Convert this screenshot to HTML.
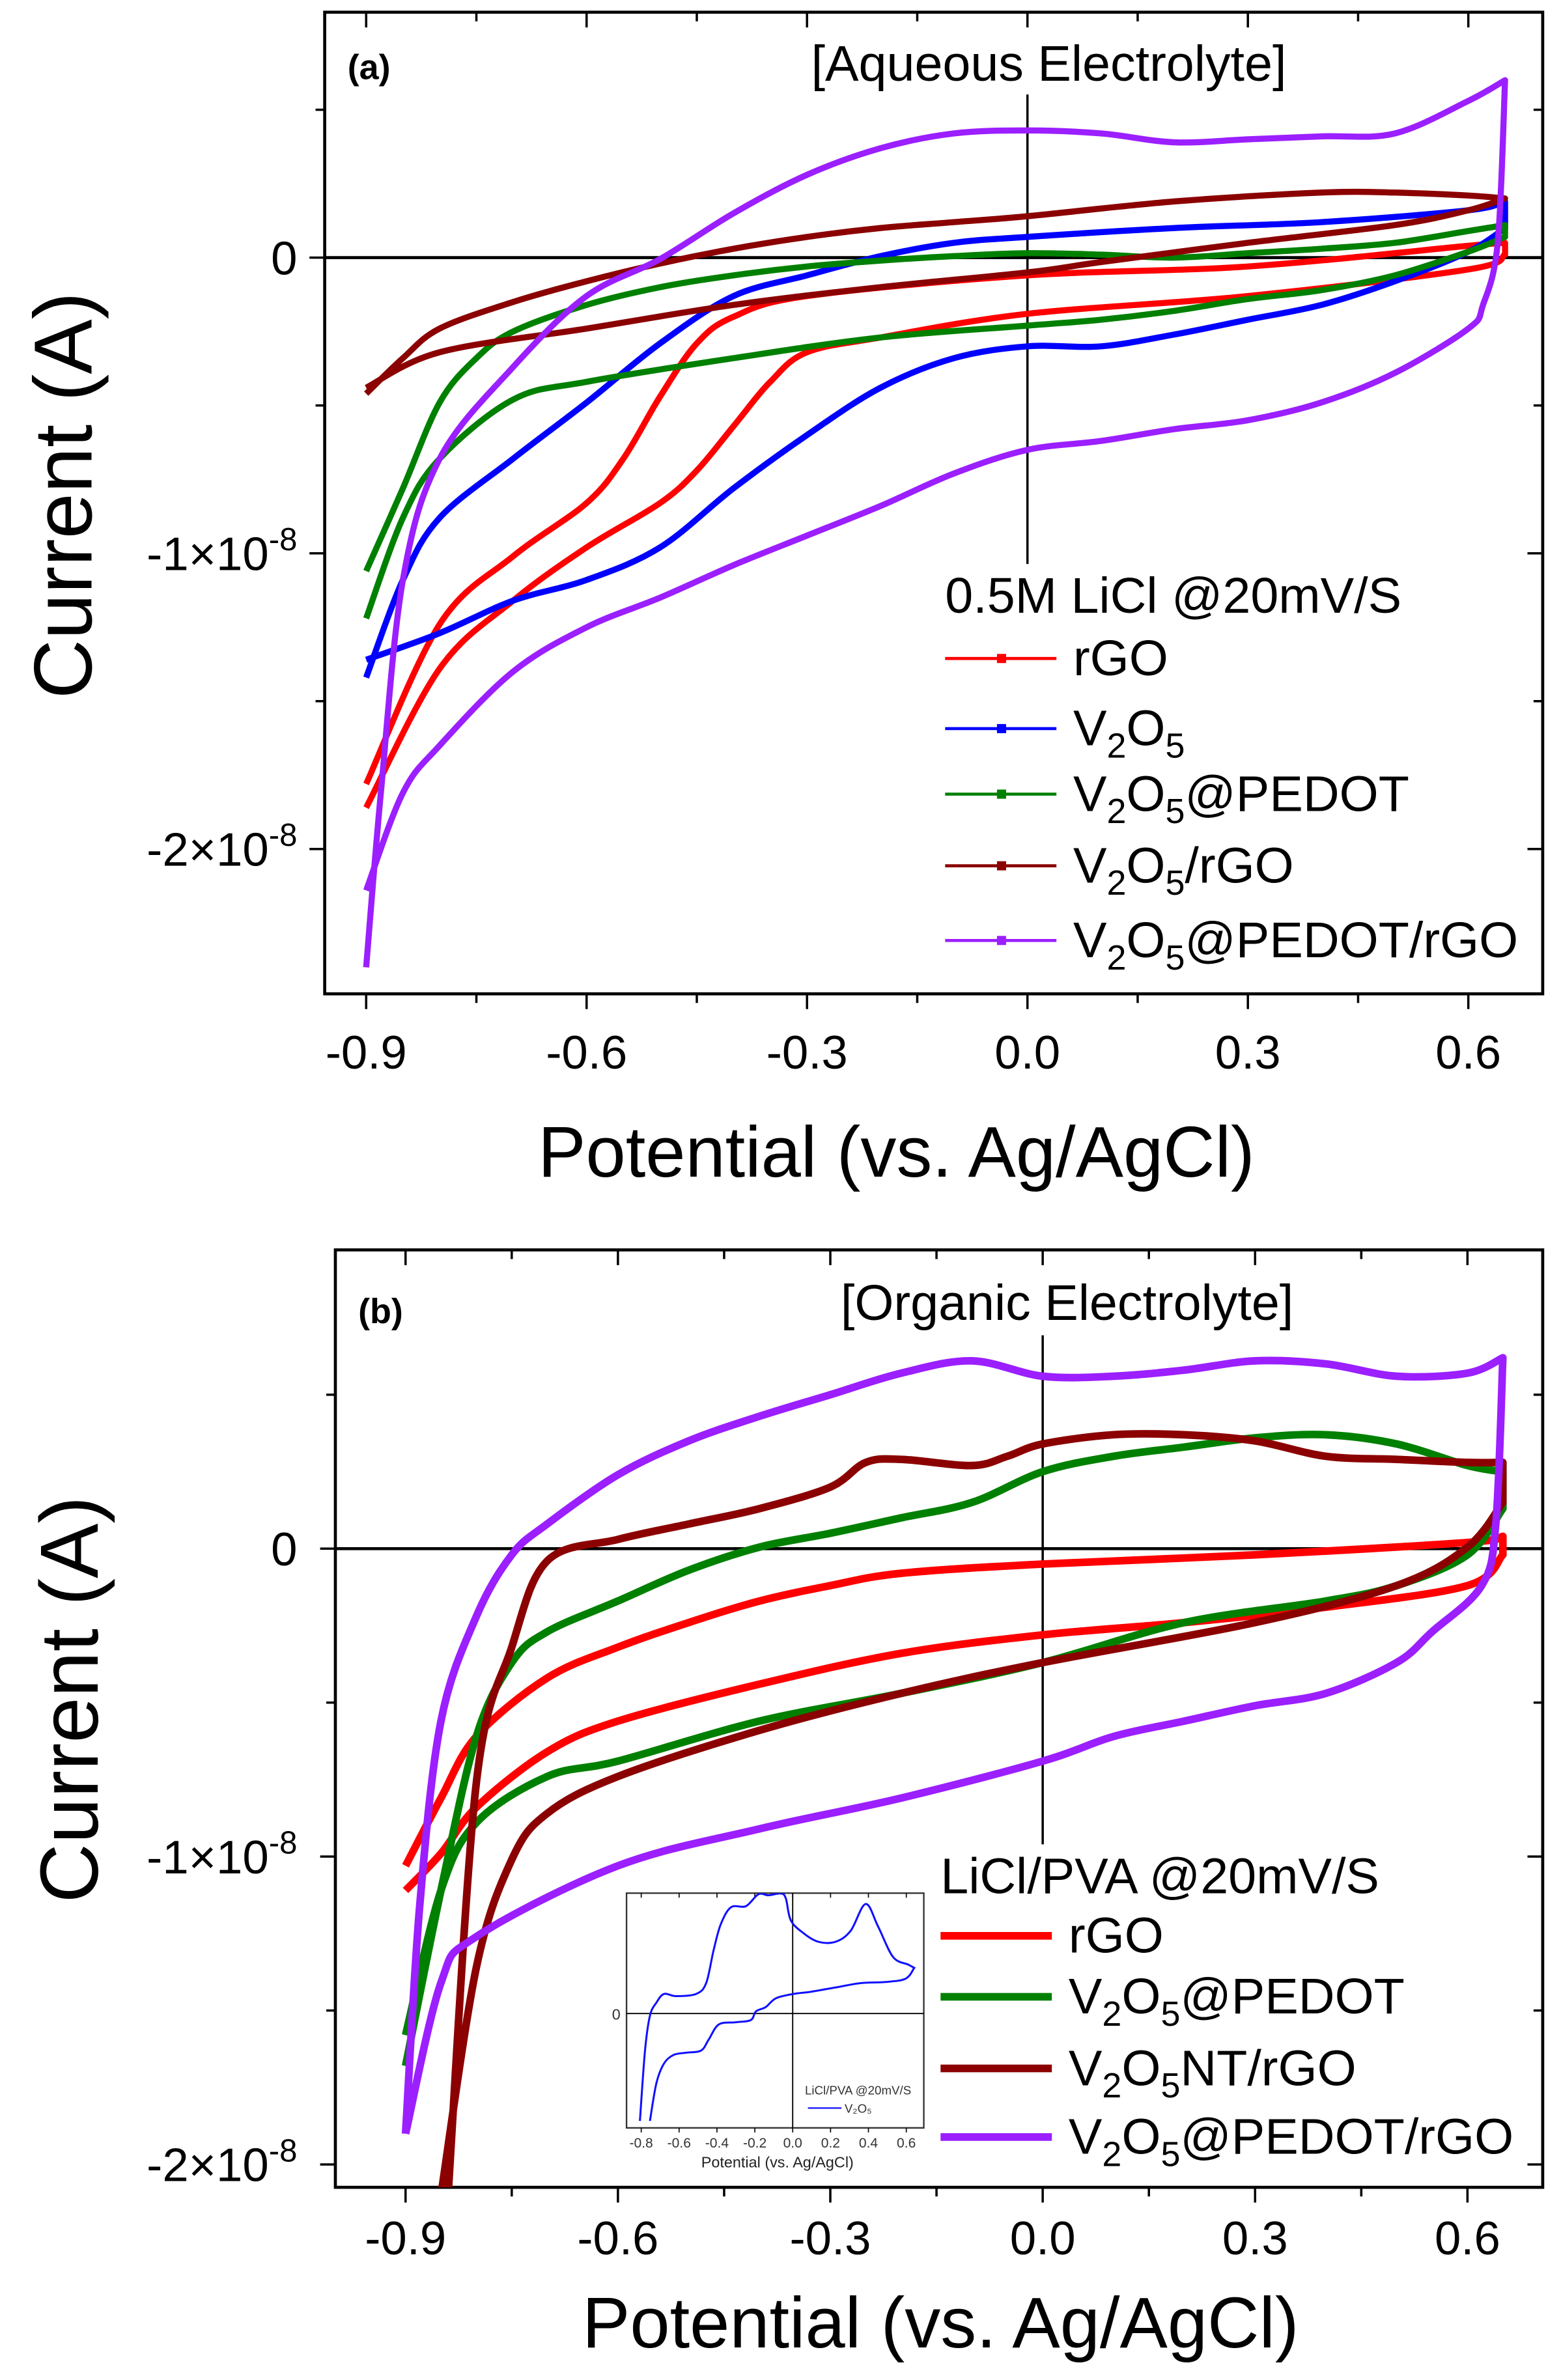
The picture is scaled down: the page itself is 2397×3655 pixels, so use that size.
<!DOCTYPE html>
<html><head><meta charset="utf-8">
<style>
html,body{margin:0;padding:0;background:#fff;}
svg{display:block;font-family:"Liberation Sans",sans-serif;}
</style></head>
<body>
<svg id="fig" width="2397" height="3655" viewBox="0 0 1024 1561.4" xmlns="http://www.w3.org/2000/svg">
<rect width="1024" height="1561.4" fill="#fff"/>
<g id="pa"></g>
<g id="pb"></g>
<g id="inset"></g>
</svg>
<script>
// ---------- Data (V in volts, I in 1e-9 A) ----------
const xTicks = [-0.9,-0.6,-0.3,0.0,0.3,0.6];
const xTickLabels = ["-0.9","-0.6","-0.3","0.0","0.3","0.6"];
const yTicks = [0,-10,-20];
const yTickLabels = ["0","-1×10","-2×10"];

// Panel (a)
const aRedUpV = [-0.9,-0.8,-0.7,-0.6,-0.55,-0.5,-0.45,-0.4,-0.3,0,0.3,0.6,0.65];
const aRedUpI = [-17.8,-12.4,-10.1,-8.3,-6.8,-4.7,-2.9,-2.0,-1.3,-0.6,-0.3,0.4,0.5];
const aRedLoV = [0.65,0.6,0.3,0,-0.2,-0.3,-0.35,-0.4,-0.45,-0.5,-0.6,-0.7,-0.8,-0.9];
const aRedLoI = [0.1,-0.4,-1.3,-1.9,-2.7,-3.2,-4.2,-5.7,-7.2,-8.3,-9.8,-11.6,-13.9,-18.6];

const aBlueUpV = [-0.9,-0.85,-0.8,-0.7,-0.6,-0.5,-0.4,-0.3,-0.2,-0.1,0,0.2,0.4,0.6,0.65];
const aBlueUpI = [-14.2,-10.9,-8.8,-6.8,-4.9,-2.9,-1.3,-0.6,0.05,0.5,0.7,1.0,1.2,1.6,1.9];
const aBlueLoV = [0.65,0.6,0.5,0.4,0.3,0.2,0.1,0,-0.1,-0.2,-0.3,-0.4,-0.5,-0.6,-0.7,-0.8,-0.9];
const aBlueLoI = [1.0,0.2,-0.8,-1.6,-2.1,-2.6,-3.0,-3.0,-3.4,-4.4,-6.0,-7.8,-9.8,-10.9,-11.6,-12.7,-13.6];

const aGreenUpV = [-0.9,-0.85,-0.8,-0.75,-0.7,-0.6,-0.5,-0.4,-0.3,-0.2,-0.1,0,0.1,0.2,0.3,0.4,0.5,0.6,0.65];
const aGreenUpI = [-10.6,-7.8,-4.9,-3.4,-2.5,-1.6,-1.0,-0.6,-0.3,-0.1,0.05,0.15,0.1,0,0.15,0.3,0.5,0.9,1.1];
const aGreenLoV = [0.65,0.6,0.5,0.4,0.3,0.2,0.1,0,-0.2,-0.4,-0.6,-0.7,-0.8,-0.85,-0.9];
const aGreenLoI = [0.7,0.2,-0.6,-1.1,-1.4,-1.8,-2.1,-2.3,-2.7,-3.4,-4.2,-4.8,-6.8,-8.8,-12.2];

const aMaroonUpV = [-0.9,-0.85,-0.8,-0.7,-0.6,-0.5,-0.4,-0.3,-0.2,-0.1,0,0.2,0.4,0.5,0.6,0.65];
const aMaroonUpI = [-4.6,-3.4,-2.4,-1.5,-0.8,-0.2,0.3,0.7,1.0,1.2,1.4,1.9,2.2,2.2,2.1,2.0];
const aMaroonLoV = [0.65,0.6,0.5,0.3,0.1,0,-0.2,-0.4,-0.6,-0.8,-0.9];
const aMaroonLoI = [2.0,1.6,1.1,0.5,-0.15,-0.5,-1.0,-1.6,-2.4,-3.2,-4.4];

const aPurpleUpV = [-0.9,-0.88,-0.85,-0.8,-0.7,-0.6,-0.5,-0.4,-0.3,-0.2,-0.1,0,0.1,0.2,0.3,0.4,0.5,0.6,0.65];
const aPurpleUpI = [-24.0,-18.1,-10.9,-6.8,-3.7,-1.3,-0.05,1.5,2.8,3.7,4.2,4.3,4.2,3.9,4.0,4.1,4.2,5.3,6.0];
const aPurpleLoV = [0.65,0.64,0.62,0.6,0.5,0.4,0.3,0.2,0.1,0,-0.1,-0.2,-0.3,-0.4,-0.5,-0.6,-0.7,-0.8,-0.85,-0.9];
const aPurpleLoI = [6.0,0.5,-1.6,-2.4,-3.9,-4.9,-5.5,-5.8,-6.2,-6.5,-7.3,-8.4,-9.4,-10.4,-11.5,-12.5,-14.0,-16.5,-18.1,-21.4];

// Panel (b)
const bRedUpV = [-0.9,-0.85,-0.8,-0.7,-0.6,-0.5,-0.4,-0.3,-0.2,0,0.3,0.6,0.65];
const bRedUpI = [-10.3,-8.1,-6.1,-4.2,-3.2,-2.4,-1.7,-1.2,-0.8,-0.5,-0.2,0.2,0.4];
const bRedLoV = [0.65,0.6,0.4,0.2,0,-0.2,-0.4,-0.6,-0.7,-0.8,-0.85,-0.9];
const bRedLoI = [-0.2,-1.2,-1.9,-2.4,-2.8,-3.4,-4.4,-5.6,-6.6,-8.4,-9.9,-11.1];

const bGreenUpV = [-0.9,-0.85,-0.8,-0.75,-0.7,-0.6,-0.5,-0.4,-0.3,-0.2,-0.1,0,0.1,0.2,0.3,0.4,0.5,0.6,0.65];
const bGreenUpI = [-16.8,-11.1,-6.1,-3.7,-2.7,-1.7,-0.7,0.05,0.5,1.0,1.5,2.5,3.0,3.3,3.6,3.7,3.4,2.7,2.5];
const bGreenLoV = [0.65,0.6,0.5,0.4,0.2,0,-0.2,-0.4,-0.6,-0.7,-0.8,-0.85,-0.9];
const bGreenLoI = [1.3,-0.2,-1.2,-1.7,-2.4,-3.7,-4.7,-5.6,-6.9,-7.4,-8.9,-11.1,-15.8];

const bMaroonUpV = [-0.84,-0.8,-0.75,-0.7,-0.6,-0.5,-0.4,-0.3,-0.25,-0.2,-0.1,-0.05,0,0.1,0.2,0.3,0.4,0.5,0.6,0.65];
const bMaroonUpI = [-21.0,-7.6,-3.2,-0.4,0.3,0.8,1.3,2.0,2.8,2.9,2.7,3.0,3.4,3.7,3.7,3.5,3.0,2.9,2.8,2.8];
const bMaroonLoV = [0.65,0.6,0.5,0.3,0,-0.2,-0.4,-0.6,-0.7,-0.75,-0.8,-0.85];
const bMaroonLoI = [1.5,0.05,-1.2,-2.4,-3.7,-4.7,-5.9,-7.4,-8.6,-10.1,-13.6,-21.0];

const bPurpleUpV = [-0.9,-0.88,-0.85,-0.8,-0.75,-0.7,-0.6,-0.5,-0.4,-0.3,-0.2,-0.1,0,0.1,0.2,0.3,0.4,0.5,0.6,0.65];
const bPurpleUpI = [-19.0,-11.6,-5.6,-2.2,-0.2,0.8,2.4,3.5,4.3,5.0,5.7,6.1,5.6,5.6,5.8,6.1,6.0,5.6,5.7,6.2];
const bPurpleLoV = [0.65,0.64,0.62,0.55,0.5,0.4,0.3,0.2,0.1,0,-0.2,-0.4,-0.6,-0.8,-0.85,-0.9];
const bPurpleLoI = [6.2,0.8,-1.2,-2.7,-3.7,-4.7,-5.1,-5.6,-6.1,-6.9,-8.1,-9.1,-10.3,-12.6,-14.1,-19.0];

// Inset (arbitrary units)
const insetXTicks = [-0.8,-0.6,-0.4,-0.2,0.0,0.2,0.4,0.6];
const insetXLabels = ["-0.8","-0.6","-0.4","-0.2","0.0","0.2","0.4","0.6"];
const insetUpV = [-0.807,-0.78,-0.754,-0.72,-0.68,-0.616,-0.51,-0.457,-0.418,-0.38,-0.326,-0.247,-0.181,-0.128,-0.062,-0.036,-0.01,0.056,0.135,0.227,0.306,0.385,0.451,0.53,0.61,0.642];
const insetUpI = [-2.96,-1.02,-0.06,0.3,0.54,0.48,0.54,0.84,1.74,2.46,2.93,2.96,3.29,3.26,3.31,3.17,2.57,2.22,1.98,1.98,2.28,3.02,2.4,1.56,1.35,1.26];
const insetLoV = [0.642,0.596,0.49,0.359,0.227,0.095,0.003,-0.089,-0.142,-0.194,-0.221,-0.3,-0.39,-0.444,-0.484,-0.563,-0.629,-0.68,-0.72,-0.754];
const insetLoI = [1.26,0.96,0.87,0.84,0.72,0.6,0.54,0.42,0.18,0.06,-0.18,-0.24,-0.3,-0.72,-1.02,-1.08,-1.14,-1.38,-1.92,-2.96];

// ---------- Drawing ----------
const NS = "http://www.w3.org/2000/svg";
function mk(parent, tag, attrs, text){
  const e = document.createElementNS(NS, tag);
  for (const k in attrs) e.setAttribute(k, attrs[k]);
  if (text !== undefined) e.textContent = text;
  parent.appendChild(e);
  return e;
}
// smooth Catmull-Rom path through points
function smoothPath(xs, ys, sx, sy, cont){
  const P = xs.map((x,i)=>[sx(x), sy(ys[i])]);
  let d = (cont?"L":"M") + P[0][0].toFixed(2)+","+P[0][1].toFixed(2);
  for (let i=0;i<P.length-1;i++){
    const p0=P[Math.max(0,i-1)], p1=P[i], p2=P[i+1], p3=P[Math.min(P.length-1,i+2)];
    const c1=[p1[0]+(p2[0]-p0[0])/6, p1[1]+(p2[1]-p0[1])/6];
    const c2=[p2[0]-(p3[0]-p1[0])/6, p2[1]-(p3[1]-p1[1])/6];
    d += "C"+c1[0].toFixed(2)+","+c1[1].toFixed(2)+" "+c2[0].toFixed(2)+","+c2[1].toFixed(2)+" "+p2[0].toFixed(2)+","+p2[1].toFixed(2);
  }
  return d;
}

function panel(g, cfg){
  const sx = v => cfg.x0 + v*cfg.pxPerV;
  const sy = i => cfg.y0 - i*cfg.pxPerNA;
  const L=cfg.left,R=cfg.right,T=cfg.top,B=cfg.bottom;
  const fr = mk(g,"rect",{x:L,y:T,width:R-L,height:B-T,fill:"none",stroke:"#000","stroke-width":2});
  
  
  const zl = mk(g,"line",{x1:L,x2:R,y1:sy(0),y2:sy(0),stroke:"#000","stroke-width":2});
  
  
  const vl = mk(g,"line",{x1:sx(0),x2:sx(0),y1:cfg.vlineTop,y2:cfg.vlineBot,stroke:"#000","stroke-width":1.5});
  
  
  for (let v=-0.9; v<=0.751; v+=0.15){
    const major = Math.abs(Math.round(v/0.3)*0.3 - v) < 1e-6;
    const len = major?10:6;
    mk(g,"line",{x1:sx(v),x2:sx(v),y1:B,y2:B+len,stroke:"#000","stroke-width":1.5});
    mk(g,"line",{x1:sx(v),x2:sx(v),y1:T,y2:T+len,stroke:"#000","stroke-width":1.5});
  }
  xTicks.forEach((v,k)=>{
    const t = mk(g,"text",{x:sx(v),y:cfg.xLabelY,"font-size":31,"text-anchor":"middle",fill:"#000"},xTickLabels[k]);
    
    
  });
  for (let i=-25;i<=10;i+=5){
    const y = sy(i); if (y<T||y>B) continue;
    const major = i%10===0; const len = major?10:6;
    mk(g,"line",{x1:L-len,x2:L,y1:y,y2:y,stroke:"#000","stroke-width":1.5});
    mk(g,"line",{x1:R-len,x2:R,y1:y,y2:y,stroke:"#000","stroke-width":1.5});
  }
  yTicks.forEach((i,k)=>{
    const t = mk(g,"text",{x:195,y:sy(i)+11,"font-size":31,"text-anchor":"end",fill:"#000"});
    
    
    t.textContent = yTickLabels[k];
    if (i!==0) mk(t,"tspan",{dy:-13,"font-size":21},"-8");
  });
  const yt = mk(g,"text",{x:0,y:0,"font-size":54,"text-anchor":"middle",transform:`translate(${cfg.yTitleX},${cfg.yTitleY}) rotate(-90)`},"Current (A)");
  
  
  const xt = mk(g,"text",{x:cfg.xTitleX,y:cfg.xTitleY,"font-size":47,"text-anchor":"middle"},"Potential (vs. Ag/AgCl)");
  
  
  const pl = mk(g,"text",{x:cfg.labX,y:cfg.labY,"font-size":23,"font-weight":"bold"},cfg.label);
  
  
  const ti = mk(g,"text",{x:cfg.titleX,y:cfg.titleY,"font-size":33,"text-anchor":"middle"},cfg.title);
  
  
  const clip = mk(g,"clipPath",{id:cfg.clipId});
  mk(clip,"rect",{x:L,y:T,width:R-L,height:B-T});
  cfg.series.forEach(s=>{
    const p = mk(g,"path",{d:smoothPath(s.upV,s.upI,sx,sy,false)+smoothPath(s.loV,s.loI,sx,sy,true),fill:"none",stroke:s.color,"stroke-width":cfg.lw,"stroke-linejoin":"round","clip-path":`url(#${cfg.clipId})`});
    
    
  });
  const lg = mk(g,"g",{});
  
  
  mk(lg,"text",{x:cfg.legX,y:cfg.legTitleY,"font-size":33},cfg.legTitle);
  cfg.series.forEach((s,k)=>{
    const y = cfg.legY[k];
    const e = mk(lg,"g",{});
    
    
    mk(e,"line",{x1:cfg.legX,x2:cfg.legX+73,y1:y,y2:y,stroke:s.color,"stroke-width":cfg.legLW});
    if (cfg.legMarker) mk(e,"rect",{x:cfg.legX+34,y:y-3,width:6,height:6,fill:s.color});
    const t = mk(e,"text",{x:cfg.legX+84,y:y+11,"font-size":33});
    s.leg.forEach(part=>{ if(part[1]) { mk(t,"tspan",{dy:8,"font-size":23},part[0]); mk(t,"tspan",{dy:-8},"\u200b"); } else mk(t,"tspan",{},part[0]); });
  });
}

panel(document.getElementById("pa"),{
  x0:674,pxPerV:482,y0:169,pxPerNA:19.4,left:213,right:1012,top:8,bottom:652,
  vlineTop:62,vlineBot:370,xLabelY:701,yTitleX:60,yTitleY:325,xTitleX:588,xTitleY:772,
  labX:228,labY:52,label:"(a)",titleX:688,titleY:53,title:"[Aqueous Electrolyte]",
  clipId:"ca",lw:4,legX:620,legTitleY:402,legTitle:"0.5M LiCl @20mV/S",legY:[432,478,521,568,617],legLW:2,legMarker:true,
  series:[
    {name:"series-rgo",color:"#ff0000",upV:aRedUpV,upI:aRedUpI,loV:aRedLoV,loI:aRedLoI,leg:[["rGO"]]},
    {name:"series-v2o5",color:"#0000ff",upV:aBlueUpV,upI:aBlueUpI,loV:aBlueLoV,loI:aBlueLoI,leg:[["V"],["2",1],["O"],["5",1]]},
    {name:"series-v2o5-pedot",color:"#008000",upV:aGreenUpV,upI:aGreenUpI,loV:aGreenLoV,loI:aGreenLoI,leg:[["V"],["2",1],["O"],["5",1],["@PEDOT"]]},
    {name:"series-v2o5-rgo",color:"#8b0000",upV:aMaroonUpV,upI:aMaroonUpI,loV:aMaroonLoV,loI:aMaroonLoI,leg:[["V"],["2",1],["O"],["5",1],["/rGO"]]},
    {name:"series-v2o5-pedot-rgo",color:"#9b1fff",upV:aPurpleUpV,upI:aPurpleUpI,loV:aPurpleLoV,loI:aPurpleLoI,leg:[["V"],["2",1],["O"],["5",1],["@PEDOT/rGO"]]}
  ]
});

panel(document.getElementById("pb"),{
  x0:684,pxPerV:464.4,y0:1016,pxPerNA:20.2,left:220,right:1012,top:820,bottom:1435,
  vlineTop:876,vlineBot:1210,xLabelY:1479,yTitleX:64,yTitleY:1115,xTitleX:617,xTitleY:1540,
  labX:235,labY:868,label:"(b)",titleX:700,titleY:866,title:"[Organic Electrolyte]",
  clipId:"cb",lw:5,legX:617,legTitleY:1242,legTitle:"LiCl/PVA @20mV/S",legY:[1270,1310,1357,1402],legLW:5,legMarker:false,
  series:[
    {name:"series-rgo",color:"#ff0000",upV:bRedUpV,upI:bRedUpI,loV:bRedLoV,loI:bRedLoI,leg:[["rGO"]]},
    {name:"series-v2o5-pedot",color:"#008000",upV:bGreenUpV,upI:bGreenUpI,loV:bGreenLoV,loI:bGreenLoI,leg:[["V"],["2",1],["O"],["5",1],["@PEDOT"]]},
    {name:"series-v2o5nt-rgo",color:"#8b0000",upV:bMaroonUpV,upI:bMaroonUpI,loV:bMaroonLoV,loI:bMaroonLoI,leg:[["V"],["2",1],["O"],["5",1],["NT/rGO"]]},
    {name:"series-v2o5-pedot-rgo",color:"#9b1fff",upV:bPurpleUpV,upI:bPurpleUpI,loV:bPurpleLoV,loI:bPurpleLoI,leg:[["V"],["2",1],["O"],["5",1],["@PEDOT/rGO"]]}
  ]
});

// Inset
(function(){
  const g = document.getElementById("inset");
  const L=411,R=606,T=1242,B=1396;
  const sx = v => 520 + v*124.2;
  const sy = i => 1321 - i*23.8;
  mk(g,"rect",{x:L,y:T,width:R-L,height:B-T,fill:"#fff",stroke:"#333","stroke-width":1});
  mk(g,"line",{x1:L,x2:R,y1:sy(0),y2:sy(0),stroke:"#000","stroke-width":0.8});
  mk(g,"line",{x1:sx(0),x2:sx(0),y1:T,y2:B,stroke:"#000","stroke-width":0.8});
  insetXTicks.forEach((v,k)=>{
    mk(g,"line",{x1:sx(v),x2:sx(v),y1:B,y2:B+3,stroke:"#000","stroke-width":0.7});
    mk(g,"line",{x1:sx(v),x2:sx(v),y1:T,y2:T+3,stroke:"#000","stroke-width":0.7});
    const t = mk(g,"text",{x:sx(v),y:B+13,"font-size":9,"text-anchor":"middle",fill:"#333"},insetXLabels[k]);
    
    
  });
  mk(g,"text",{x:L-4,y:sy(0)+4,"font-size":10,"text-anchor":"end",fill:"#333"},"0");
  const xt = mk(g,"text",{x:510,y:B+26,"font-size":10,"text-anchor":"middle",fill:"#222"},"Potential (vs. Ag/AgCl)");
  
  
  const clip = mk(g,"clipPath",{id:"ci"});
  mk(clip,"rect",{x:L,y:T,width:R-L,height:B-T});
  const p = mk(g,"path",{d:smoothPath(insetUpV,insetUpI,sx,sy,false)+smoothPath(insetLoV,insetLoI,sx,sy,true),fill:"none",stroke:"#1010ff","stroke-width":1.3,"clip-path":"url(#ci)"});
  
  
  const lt = mk(g,"text",{x:528,y:1374,"font-size":8,fill:"#333"},"LiCl/PVA @20mV/S");
  
  
  mk(g,"line",{x1:530,x2:552,y1:1383,y2:1383,stroke:"#1010ff","stroke-width":1});
  mk(g,"text",{x:554,y:1386,"font-size":8,fill:"#333"},"V₂O₅");
})();
</script>
</body></html>
